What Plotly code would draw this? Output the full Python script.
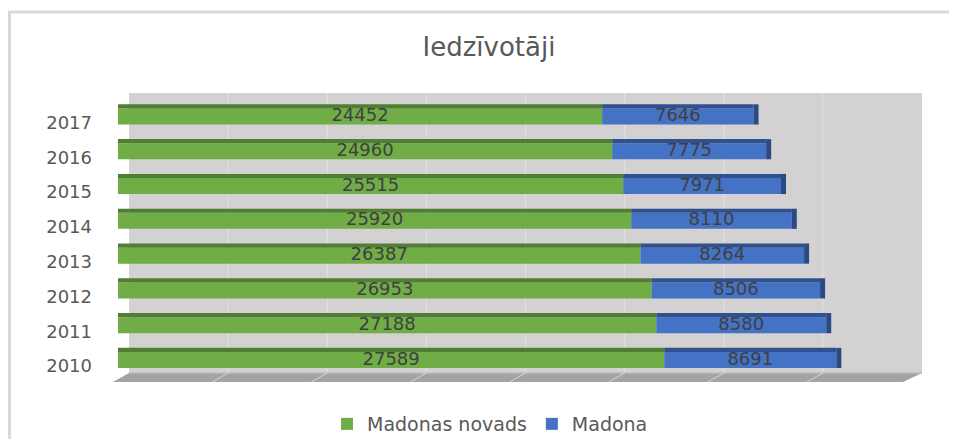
import plotly.graph_objects as go

years = ["2010", "2011", "2012", "2013", "2014", "2015", "2016", "2017"]
madonas_novads = [27589, 27188, 26953, 26387, 25920, 25515, 24960, 24452]
madona = [8691, 8580, 8506, 8264, 8110, 7971, 7775, 7646]
x_ticks = [0, 5000, 10000, 15000, 20000, 25000, 30000, 35000, 40000]

OFF = 8  # default page body margin
PAGE_W, PAGE_H = 957, 447
W, H = PAGE_W - 2 * OFF, PAGE_H - 2 * OFF
PL, PR, PT, PB = 118, 910, 93, 373  # plot area in page pixels
XMAX = x_ticks[-1]


def px(x):
    return (x - PL) / (PR - PL)


def py(y):
    return (PB - y) / (PB - PT)


totals = [a + b for a, b in zip(madonas_novads, madona)]
BW = 0.46
TOPW = 0.12
side_len = XMAX * 5 / (PR - PL)

GREEN, GREEN_TOP = "#70AD47", "#507E32"
BLUE, BLUE_TOP = "#4472C4", "#2F528F"
TXT = "#595959"
FONT = "DejaVu Sans"

fig = go.Figure()
fig.add_trace(go.Bar(y=years, x=madonas_novads, base=[0] * len(years), orientation="h",
                     name="Madonas novads", marker=dict(color=GREEN, line=dict(width=0)),
                     width=BW, hoverinfo="x"))
fig.add_trace(go.Bar(y=years, x=madona, base=madonas_novads, orientation="h",
                     name="Madona", marker=dict(color=BLUE, line=dict(width=0)),
                     width=BW, hoverinfo="x"))
# 3D top faces
fig.add_trace(go.Bar(y=years, x=madonas_novads, base=[0] * len(years), orientation="h",
                     marker=dict(color=GREEN_TOP, line=dict(width=0)), width=TOPW,
                     offset=BW / 2, showlegend=False, hoverinfo="skip"))
fig.add_trace(go.Bar(y=years, x=madona, base=madonas_novads, orientation="h",
                     marker=dict(color=BLUE_TOP, line=dict(width=0)), width=TOPW,
                     offset=BW / 2, showlegend=False, hoverinfo="skip"))
# 3D side face
fig.add_trace(go.Bar(y=years, x=[side_len] * len(years), base=totals, orientation="h",
                     marker=dict(color="#2A4A82", line=dict(width=0)), width=BW + TOPW,
                     offset=-BW / 2, showlegend=False, hoverinfo="skip"))

# data labels
lab_x = [v / 2 for v in madonas_novads] + [a + b / 2 for a, b in zip(madonas_novads, madona)]
lab_t = [str(v) for v in madonas_novads] + [str(v) for v in madona]
fig.add_trace(go.Scatter(x=lab_x, y=years + years, mode="text", text=lab_t,
                         textfont=dict(family=FONT, size=18, color="#404040"),
                         textposition="middle center", showlegend=False, hoverinfo="skip"))

shapes = []
# chart border (left and top)
shapes.append(dict(type="line", xref="paper", yref="paper", x0=px(9.5), x1=px(9.5), y0=py(12), y1=py(PAGE_H - OFF),
                   line=dict(color="#D9D9D9", width=3), layer="below"))
shapes.append(dict(type="line", xref="paper", yref="paper", x0=px(8), x1=px(PAGE_W - OFF), y0=py(12), y1=py(12),
                   line=dict(color="#D9D9D9", width=3), layer="below"))
# back wall
WL, WR, WT, WB = 129, 922, 93, 373
shapes.append(dict(type="rect", xref="paper", yref="paper", x0=px(WL), x1=px(WR), y0=py(WT), y1=py(WB),
                   fillcolor="#D3D1D1", line=dict(width=0), layer="below"))
step = (WR - WL) / (len(x_ticks) - 1)
for k in range(1, len(x_ticks) - 1):
    gx = WL + k * step
    shapes.append(dict(type="line", xref="paper", yref="paper", x0=px(gx), x1=px(gx), y0=py(WT), y1=py(WB),
                       line=dict(color="#E2E2E2", width=1), layer="below"))
# floor
FB = 382
shapes.append(dict(type="path", xref="paper", yref="paper",
                   path=f"M{px(WL)},{py(WB)} L{px(WR)},{py(WB)} L{px(WR - 19)},{py(FB)} L{px(WL - 16)},{py(FB)} Z",
                   fillcolor="#A3A3A3", line=dict(width=0), layer="below"))
shapes.append(dict(type="line", xref="paper", yref="paper", x0=px(WL), x1=px(WR), y0=py(WB), y1=py(WB),
                   line=dict(color="#BDBDBD", width=1.5), layer="below"))
for k in range(1, len(x_ticks) - 1):
    gx = WL + k * step
    shapes.append(dict(type="line", xref="paper", yref="paper", x0=px(gx), x1=px(gx - 16), y0=py(WB), y1=py(FB),
                       line=dict(color="#D6D6D6", width=1), layer="below"))

fig.update_layout(
    width=W, height=H,
    margin=dict(l=PL - OFF, r=OFF + W - PR, t=PT - OFF, b=OFF + H - PB, pad=0, autoexpand=False),
    barmode="overlay",
    paper_bgcolor="white", plot_bgcolor="rgba(0,0,0,0)",
    shapes=shapes,
    title=dict(text="Iedzīvotāji", x=(489 - OFF) / W, xanchor="center", y=1 - (47 - OFF) / H, yanchor="middle",
               font=dict(family=FONT, size=26, color=TXT)),
    legend=dict(orientation="h", xref="container", yref="container",
                x=(490 - OFF) / W, xanchor="center", y=1 - (424 - OFF) / H, yanchor="middle",
                font=dict(family=FONT, size=19, color=TXT), bgcolor="rgba(0,0,0,0)",
                itemclick=False),
    xaxis=dict(range=[x_ticks[0], x_ticks[-1]], showgrid=False, zeroline=False, showticklabels=False,
               showline=False, fixedrange=True),
    yaxis=dict(type="category", categoryorder="array", categoryarray=years, range=[-0.373, 7.675],
               showgrid=False, zeroline=False, showline=False, ticks="",
               tickfont=dict(family=FONT, size=18, color=TXT), ticklabelstandoff=25, ticklabelshift=6),
    showlegend=True,
)

fig.write_html("out.html")
